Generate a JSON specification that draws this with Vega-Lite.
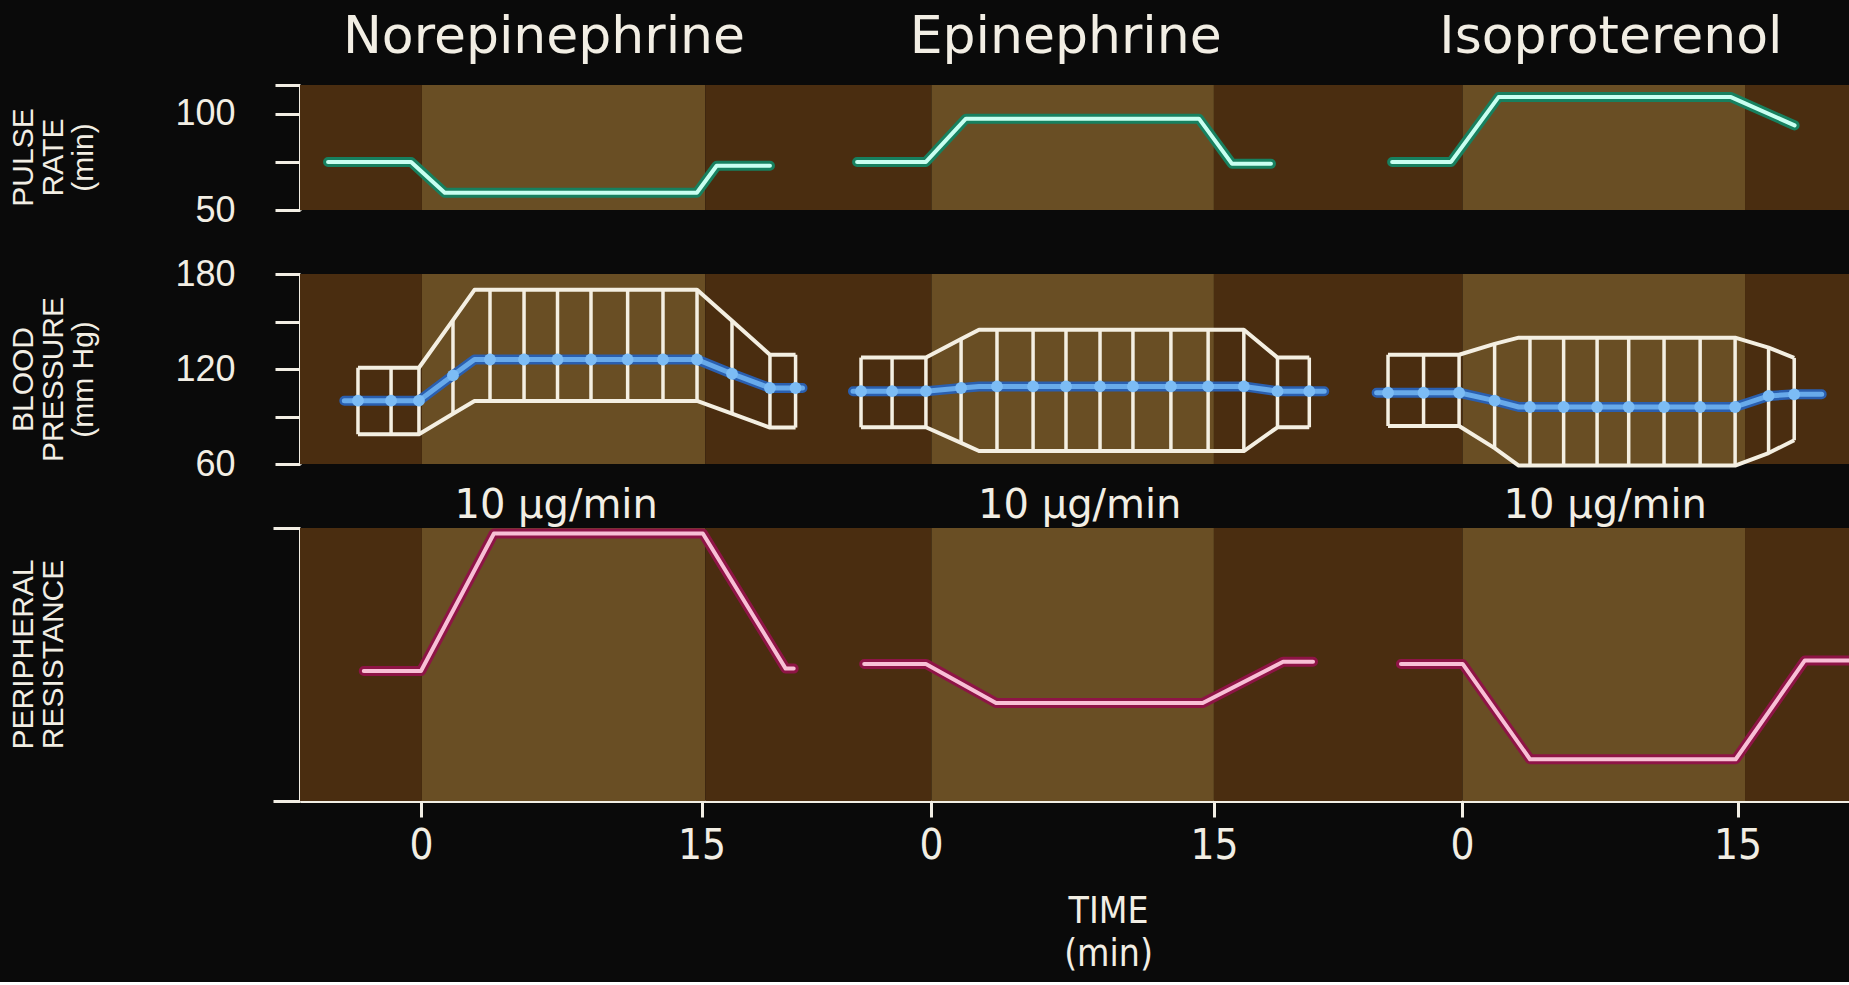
{
  "$schema": "https://vega.github.io/schema/vega-lite/v6.json",
  "background": "#0a0a0a",
  "padding": {"left": 8, "top": 10, "right": 0, "bottom": 10},
  "spacing": 64,
  "bounds": "flush",
  "config": {
    "view": {"stroke": null},
    "axis": {
      "grid": false,
      "domainColor": "#f2eee4",
      "domainWidth": 3,
      "tickColor": "#f2eee4",
      "tickWidth": 3,
      "labelColor": "#f2eee4",
      "titleColor": "#f2eee4",
      "labelFont": "Liberation Sans",
      "titleFont": "Liberation Sans",
      "titleFontWeight": "normal",
      "labelOverlap": false,
      "labelFlush": false,
      "labelBound": false,
      "labelLimit": 0,
      "titleLimit": 0
    }
  },
  "datasets": {
    "bands": [
      {"x0": -6.47, "x1": 0.05, "shade": "dark"},
      {"x0": 0.05, "x1": 15.2, "shade": "light"},
      {"x0": 15.2, "x1": 27.3, "shade": "dark"},
      {"x0": 27.3, "x1": 42.4, "shade": "light"},
      {"x0": 42.4, "x1": 55.7, "shade": "dark"},
      {"x0": 55.7, "x1": 70.8, "shade": "light"},
      {"x0": 70.8, "x1": 76.36, "shade": "dark"}
    ],
    "pulse": [
      {"drug": "Norepinephrine", "x": -4.97, "rate": 75},
      {"drug": "Norepinephrine", "x": -0.53, "rate": 75},
      {"drug": "Norepinephrine", "x": 1.27, "rate": 59},
      {"drug": "Norepinephrine", "x": 14.75, "rate": 59},
      {"drug": "Norepinephrine", "x": 15.81, "rate": 73},
      {"drug": "Norepinephrine", "x": 18.66, "rate": 73},
      {"drug": "Epinephrine", "x": 23.32, "rate": 75},
      {"drug": "Epinephrine", "x": 27.0, "rate": 75},
      {"drug": "Epinephrine", "x": 29.14, "rate": 97.5},
      {"drug": "Epinephrine", "x": 41.6, "rate": 97.5},
      {"drug": "Epinephrine", "x": 43.37, "rate": 74},
      {"drug": "Epinephrine", "x": 45.45, "rate": 74},
      {"drug": "Isoproterenol", "x": 51.93, "rate": 75},
      {"drug": "Isoproterenol", "x": 55.08, "rate": 75},
      {"drug": "Isoproterenol", "x": 57.62, "rate": 108.7},
      {"drug": "Isoproterenol", "x": 70.05, "rate": 108.7},
      {"drug": "Isoproterenol", "x": 73.45, "rate": 94}
    ],
    "bp": [
      {"drug": "Norepinephrine", "x": -4.1, "sys": null, "dia": null, "mean": 100, "bar": false},
      {"drug": "Norepinephrine", "x": -3.37, "sys": 120.8, "dia": 78.8, "mean": 100, "bar": true},
      {"drug": "Norepinephrine", "x": -1.6, "sys": 120.8, "dia": 78.8, "mean": 100, "bar": true},
      {"drug": "Norepinephrine", "x": -0.11, "sys": 120.8, "dia": 78.8, "mean": 100, "bar": true},
      {"drug": "Norepinephrine", "x": 1.71, "sys": 150.9, "dia": 91.7, "mean": 116, "bar": true},
      {"drug": "Norepinephrine", "x": 2.86, "sys": 170, "dia": 99.8, "mean": 126, "bar": false},
      {"drug": "Norepinephrine", "x": 3.69, "sys": 170, "dia": 99.8, "mean": 126, "bar": true},
      {"drug": "Norepinephrine", "x": 5.51, "sys": 170, "dia": 99.8, "mean": 126, "bar": true},
      {"drug": "Norepinephrine", "x": 7.3, "sys": 170, "dia": 99.8, "mean": 126, "bar": true},
      {"drug": "Norepinephrine", "x": 9.09, "sys": 170, "dia": 99.8, "mean": 126, "bar": true},
      {"drug": "Norepinephrine", "x": 11.05, "sys": 170, "dia": 99.8, "mean": 126, "bar": true},
      {"drug": "Norepinephrine", "x": 12.94, "sys": 170, "dia": 99.8, "mean": 126, "bar": true},
      {"drug": "Norepinephrine", "x": 14.76, "sys": 170, "dia": 99.8, "mean": 126, "bar": true},
      {"drug": "Norepinephrine", "x": 16.63, "sys": 150.4, "dia": 91.8, "mean": 117, "bar": true},
      {"drug": "Norepinephrine", "x": 18.66, "sys": 129, "dia": 83, "mean": 108, "bar": true},
      {"drug": "Norepinephrine", "x": 20.03, "sys": 129, "dia": 83, "mean": 108, "bar": true},
      {"drug": "Norepinephrine", "x": 20.4, "sys": null, "dia": null, "mean": 108, "bar": false},
      {"drug": "Epinephrine", "x": 23.1, "sys": null, "dia": null, "mean": 106, "bar": false},
      {"drug": "Epinephrine", "x": 23.53, "sys": 127.2, "dia": 83.2, "mean": 106, "bar": true},
      {"drug": "Epinephrine", "x": 25.19, "sys": 127.2, "dia": 83.2, "mean": 106, "bar": true},
      {"drug": "Epinephrine", "x": 27.0, "sys": 127.2, "dia": 83.2, "mean": 106, "bar": true},
      {"drug": "Epinephrine", "x": 28.88, "sys": 138.9, "dia": 73.3, "mean": 108, "bar": true},
      {"drug": "Epinephrine", "x": 29.84, "sys": 144.8, "dia": 68.2, "mean": 109, "bar": false},
      {"drug": "Epinephrine", "x": 30.8, "sys": 144.8, "dia": 68.2, "mean": 109, "bar": true},
      {"drug": "Epinephrine", "x": 32.73, "sys": 144.8, "dia": 68.2, "mean": 109, "bar": true},
      {"drug": "Epinephrine", "x": 34.49, "sys": 144.8, "dia": 68.2, "mean": 109, "bar": true},
      {"drug": "Epinephrine", "x": 36.31, "sys": 144.8, "dia": 68.2, "mean": 109, "bar": true},
      {"drug": "Epinephrine", "x": 38.07, "sys": 144.8, "dia": 68.2, "mean": 109, "bar": true},
      {"drug": "Epinephrine", "x": 40.1, "sys": 144.8, "dia": 68.2, "mean": 109, "bar": true},
      {"drug": "Epinephrine", "x": 42.09, "sys": 144.8, "dia": 68.2, "mean": 109, "bar": true},
      {"drug": "Epinephrine", "x": 44.0, "sys": 144.8, "dia": 68.2, "mean": 109, "bar": true},
      {"drug": "Epinephrine", "x": 45.8, "sys": 127.2, "dia": 83.2, "mean": 106, "bar": true},
      {"drug": "Epinephrine", "x": 47.5, "sys": 127.2, "dia": 83.2, "mean": 106, "bar": true},
      {"drug": "Epinephrine", "x": 48.3, "sys": null, "dia": null, "mean": 106, "bar": false},
      {"drug": "Isoproterenol", "x": 51.1, "sys": null, "dia": null, "mean": 105, "bar": false},
      {"drug": "Isoproterenol", "x": 51.71, "sys": 129, "dia": 84, "mean": 105, "bar": true},
      {"drug": "Isoproterenol", "x": 53.61, "sys": 129, "dia": 84, "mean": 105, "bar": true},
      {"drug": "Isoproterenol", "x": 55.51, "sys": 129, "dia": 84, "mean": 105, "bar": true},
      {"drug": "Isoproterenol", "x": 57.41, "sys": 135.9, "dia": 70, "mean": 100, "bar": true},
      {"drug": "Isoproterenol", "x": 58.7, "sys": 139.8, "dia": 59, "mean": 96, "bar": false},
      {"drug": "Isoproterenol", "x": 59.3, "sys": 139.8, "dia": 59, "mean": 96, "bar": true},
      {"drug": "Isoproterenol", "x": 61.1, "sys": 139.8, "dia": 59, "mean": 96, "bar": true},
      {"drug": "Isoproterenol", "x": 62.89, "sys": 139.8, "dia": 59, "mean": 96, "bar": true},
      {"drug": "Isoproterenol", "x": 64.58, "sys": 139.8, "dia": 59, "mean": 96, "bar": true},
      {"drug": "Isoproterenol", "x": 66.47, "sys": 139.8, "dia": 59, "mean": 96, "bar": true},
      {"drug": "Isoproterenol", "x": 68.4, "sys": 139.8, "dia": 59, "mean": 96, "bar": true},
      {"drug": "Isoproterenol", "x": 70.27, "sys": 139.8, "dia": 59, "mean": 96, "bar": true},
      {"drug": "Isoproterenol", "x": 72.06, "sys": 133.5, "dia": 66.9, "mean": 103, "bar": true},
      {"drug": "Isoproterenol", "x": 73.43, "sys": 127, "dia": 75, "mean": 104, "bar": true},
      {"drug": "Isoproterenol", "x": 74.9, "sys": null, "dia": null, "mean": 104, "bar": false}
    ],
    "resistance": [
      {"drug": "Norepinephrine", "x": -3.06, "res": 47.6},
      {"drug": "Norepinephrine", "x": 0, "res": 47.6},
      {"drug": "Norepinephrine", "x": 3.9, "res": 98},
      {"drug": "Norepinephrine", "x": 15.07, "res": 98},
      {"drug": "Norepinephrine", "x": 19.5, "res": 48.5},
      {"drug": "Norepinephrine", "x": 19.93, "res": 48.5},
      {"drug": "Epinephrine", "x": 23.7, "res": 50.2},
      {"drug": "Epinephrine", "x": 27.0, "res": 50.2},
      {"drug": "Epinephrine", "x": 30.75, "res": 35.9},
      {"drug": "Epinephrine", "x": 41.8, "res": 35.9},
      {"drug": "Epinephrine", "x": 46.1, "res": 51},
      {"drug": "Epinephrine", "x": 47.7, "res": 51},
      {"drug": "Isoproterenol", "x": 52.4, "res": 50.2},
      {"drug": "Isoproterenol", "x": 55.7, "res": 50.2},
      {"drug": "Isoproterenol", "x": 59.3, "res": 15.3},
      {"drug": "Isoproterenol", "x": 70.3, "res": 15.3},
      {"drug": "Isoproterenol", "x": 74.0, "res": 51.5},
      {"drug": "Isoproterenol", "x": 76.36, "res": 51.5}
    ]
  },
  "vconcat": [
    {
      "width": 1549,
      "height": 125,
      "layer": [
        {
          "data": {"name": "bands"},
          "mark": {"type": "rect"},
          "encoding": {
            "x": {"field": "x0", "type": "quantitative", "scale": {"domain": [-6.47, 76.36], "nice": false, "zero": false},
              "axis": {"orient": "top", "values": [6.55, 34.45, 63.6], "labelExpr": "datum.value < 20 ? 'Norepinephrine' : datum.value < 50 ? 'Epinephrine' : 'Isoproterenol'", "domain": false, "ticks": false, "tickSize": 0, "labelPadding": 22, "labelFont": "DejaVu Sans", "labelFontSize": 52, "title": null}},
            "x2": {"field": "x1"},
            "y": {"datum": 115, "type": "quantitative", "scale": {"domain": [50, 115], "nice": false, "zero": false},
              "axis": {"values": [50, 75, 100, 115], "labelExpr": "datum.value == 50 || datum.value == 100 ? datum.label : ''", "tickSize": 25, "labelPadding": 40, "labelFontSize": 36, "title": ["PULSE", "RATE", "(min)"], "titleFontSize": 30, "titleLineHeight": 30, "titleX": -262, "titleY": 72}},
            "y2": {"datum": 50},
            "color": {"field": "shade", "type": "nominal", "scale": {"domain": ["dark", "light"], "range": ["#4a2d10", "#694e24"]}, "legend": null}
          }
        },
        {
          "data": {"name": "pulse"},
          "mark": {"type": "line", "color": "#17805f", "strokeWidth": 10, "strokeJoin": "round", "strokeCap": "round"},
          "encoding": {
            "x": {"field": "x", "type": "quantitative", "scale": {"domain": [-6.47, 76.36], "nice": false, "zero": false}},
            "y": {"field": "rate", "type": "quantitative", "scale": {"domain": [50, 115], "nice": false, "zero": false}},
            "detail": {"field": "drug"}
          }
        },
        {
          "data": {"name": "pulse"},
          "mark": {"type": "line", "color": "#c9fff1", "strokeWidth": 4, "strokeJoin": "round", "strokeCap": "round"},
          "encoding": {
            "x": {"field": "x", "type": "quantitative", "scale": {"domain": [-6.47, 76.36], "nice": false, "zero": false}},
            "y": {"field": "rate", "type": "quantitative", "scale": {"domain": [50, 115], "nice": false, "zero": false}},
            "detail": {"field": "drug"}
          }
        }
      ]
    },
    {
      "width": 1549,
      "height": 190,
      "layer": [
        {
          "data": {"name": "bands"},
          "mark": {"type": "rect"},
          "encoding": {
            "x": {"field": "x0", "type": "quantitative", "scale": {"domain": [-6.47, 76.36], "nice": false, "zero": false},
              "axis": {"orient": "bottom", "values": [7.2, 35.2, 63.3], "labelExpr": "'10 µg/min'", "domain": false, "ticks": false, "tickSize": 0, "labelPadding": 21, "labelFont": "DejaVu Sans", "labelFontSize": 40, "title": null}},
            "x2": {"field": "x1"},
            "y": {"datum": 180, "type": "quantitative", "scale": {"domain": [60, 180], "nice": false, "zero": false},
              "axis": {"values": [60, 90, 120, 150, 180], "labelExpr": "datum.value == 60 || datum.value == 120 || datum.value == 180 ? datum.label : ''", "tickSize": 25, "labelPadding": 40, "labelFontSize": 36, "title": ["BLOOD", "PRESSURE", "(mm Hg)"], "titleFontSize": 30, "titleLineHeight": 30, "titleX": -262, "titleY": 105}},
            "y2": {"datum": 60},
            "color": {"field": "shade", "type": "nominal", "scale": {"domain": ["dark", "light"], "range": ["#4a2d10", "#694e24"]}, "legend": null}
          }
        },
        {
          "data": {"name": "bp"},
          "mark": {"type": "line", "color": "#f4efe2", "strokeWidth": 4, "strokeJoin": "round"},
          "encoding": {
            "x": {"field": "x", "type": "quantitative", "scale": {"domain": [-6.47, 76.36], "nice": false, "zero": false}},
            "y": {"field": "sys", "type": "quantitative", "scale": {"domain": [60, 180], "nice": false, "zero": false}},
            "detail": {"field": "drug"}
          }
        },
        {
          "data": {"name": "bp"},
          "mark": {"type": "line", "color": "#f4efe2", "strokeWidth": 4, "strokeJoin": "round"},
          "encoding": {
            "x": {"field": "x", "type": "quantitative", "scale": {"domain": [-6.47, 76.36], "nice": false, "zero": false}},
            "y": {"field": "dia", "type": "quantitative", "scale": {"domain": [60, 180], "nice": false, "zero": false}},
            "detail": {"field": "drug"}
          }
        },
        {
          "data": {"name": "bp"},
          "transform": [{"filter": "datum.bar"}],
          "mark": {"type": "rule", "color": "#f4efe2", "strokeWidth": 3.5},
          "encoding": {
            "x": {"field": "x", "type": "quantitative", "scale": {"domain": [-6.47, 76.36], "nice": false, "zero": false}},
            "y": {"field": "sys", "type": "quantitative", "scale": {"domain": [60, 180], "nice": false, "zero": false}},
            "y2": {"field": "dia"}
          }
        },
        {
          "data": {"name": "bp"},
          "mark": {"type": "line", "color": "#2a5fb0", "strokeWidth": 10, "strokeJoin": "round", "strokeCap": "round"},
          "encoding": {
            "x": {"field": "x", "type": "quantitative", "scale": {"domain": [-6.47, 76.36], "nice": false, "zero": false}},
            "y": {"field": "mean", "type": "quantitative", "scale": {"domain": [60, 180], "nice": false, "zero": false}},
            "detail": {"field": "drug"}
          }
        },
        {
          "data": {"name": "bp"},
          "mark": {"type": "line", "color": "#68aaea", "strokeWidth": 5, "strokeJoin": "round", "strokeCap": "round"},
          "encoding": {
            "x": {"field": "x", "type": "quantitative", "scale": {"domain": [-6.47, 76.36], "nice": false, "zero": false}},
            "y": {"field": "mean", "type": "quantitative", "scale": {"domain": [60, 180], "nice": false, "zero": false}},
            "detail": {"field": "drug"}
          }
        },
        {
          "data": {"name": "bp"},
          "transform": [{"filter": "datum.bar"}],
          "mark": {"type": "circle", "color": "#7cbcf5", "size": 140, "opacity": 1},
          "encoding": {
            "x": {"field": "x", "type": "quantitative", "scale": {"domain": [-6.47, 76.36], "nice": false, "zero": false}},
            "y": {"field": "mean", "type": "quantitative", "scale": {"domain": [60, 180], "nice": false, "zero": false}}
          }
        }
      ]
    },
    {
      "width": 1549,
      "height": 273,
      "layer": [
        {
          "data": {"name": "bands"},
          "mark": {"type": "rect"},
          "encoding": {
            "x": {"field": "x0", "type": "quantitative", "scale": {"domain": [-6.47, 76.36], "nice": false, "zero": false},
              "axis": {"orient": "bottom", "values": [0, 15, 27.27, 42.4, 55.67, 70.4], "labelExpr": "datum.value < 1 || (datum.value > 27 && datum.value < 28) || (datum.value > 55 && datum.value < 56) ? '0' : '15'", "tickSize": 16, "labelPadding": 8, "labelFont": "Liberation Sans Narrow, DejaVu Sans Condensed, sans-serif", "labelFontSize": 42, "title": ["TIME", "(min)"], "titleFont": "Liberation Sans Narrow, DejaVu Sans Condensed, sans-serif", "titleFontSize": 37, "titleLineHeight": 43, "titlePadding": 27, "titleX": 808}},
            "x2": {"field": "x1"},
            "y": {"datum": 100, "type": "quantitative", "scale": {"domain": [0, 100], "nice": false, "zero": false},
              "axis": {"values": [0, 100], "labelExpr": "''", "tickSize": 27, "labelPadding": 8, "labelFontSize": 36, "title": ["PERIPHERAL", "RESISTANCE"], "titleFontSize": 30, "titleLineHeight": 30, "titleX": -262, "titleY": 126}},
            "y2": {"datum": 0},
            "color": {"field": "shade", "type": "nominal", "scale": {"domain": ["dark", "light"], "range": ["#4a2d10", "#694e24"]}, "legend": null}
          }
        },
        {
          "data": {"name": "resistance"},
          "mark": {"type": "line", "color": "#8e1446", "strokeWidth": 10, "strokeJoin": "round", "strokeCap": "round"},
          "encoding": {
            "x": {"field": "x", "type": "quantitative", "scale": {"domain": [-6.47, 76.36], "nice": false, "zero": false}},
            "y": {"field": "res", "type": "quantitative", "scale": {"domain": [0, 100], "nice": false, "zero": false}},
            "detail": {"field": "drug"}
          }
        },
        {
          "data": {"name": "resistance"},
          "mark": {"type": "line", "color": "#f8c0d6", "strokeWidth": 4, "strokeJoin": "round", "strokeCap": "round"},
          "encoding": {
            "x": {"field": "x", "type": "quantitative", "scale": {"domain": [-6.47, 76.36], "nice": false, "zero": false}},
            "y": {"field": "res", "type": "quantitative", "scale": {"domain": [0, 100], "nice": false, "zero": false}},
            "detail": {"field": "drug"}
          }
        }
      ]
    }
  ]
}
